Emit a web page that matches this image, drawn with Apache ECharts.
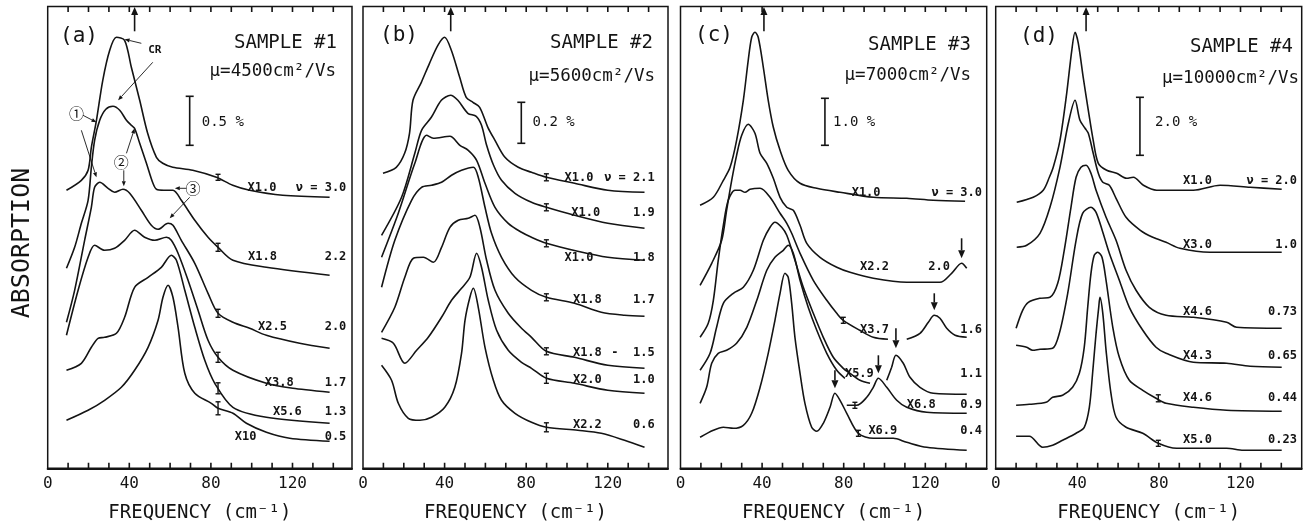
<!DOCTYPE html>
<html><head><meta charset="utf-8">
<script src="https://cdn.jsdelivr.net/npm/echarts@6/dist/echarts.min.js"></script>
<style>html,body{margin:0;padding:0;background:#fff}#c{width:1303px;height:525px}</style>
</head><body><div id="c"></div>
<script>
// ======================= DATA =======================
const FREQ_LABELS = [0, 40, 80, 120];
const FREQ_TICKS = [10, 20, 30, 40, 50, 60, 70, 80, 90, 100, 110, 120, 130, 140];
const PANEL_TAGS = ['(a)', '(b)', '(c)', '(d)'];
const SAMPLE_NAMES = ['SAMPLE #1', 'SAMPLE #2', 'SAMPLE #3', 'SAMPLE #4'];
const MOBILITIES = ['\u03bc=4500cm\u00b2/Vs', '\u03bc=5600cm\u00b2/Vs', '\u03bc=7000cm\u00b2/Vs', '\u03bc=10000cm\u00b2/Vs'];
const SCALE_LABELS = ['0.5 %', '0.2 %', '1.0 %', '2.0 %'];
const SCALE_BARS = [[69.6, 32.3, 37.2], [77.6, 32.5, 36.6], [70.8, 32.3, 37.0], [70.7, 31.3, 37.1]];
const CR_MARK = [42.6, 43.0, 40.9, 44.3];

const MULT_A = ['X1.0', 'X1.8', 'X2.5', 'X3.8', 'X5.6', 'X10'];
const NU_A = ['\u03bd = 3.0', '2.2', '2.0', '1.7', '1.3', '0.5'];
const A1 = [[9.2,27.8],[16.5,28.8],[19.8,29.8],[21.4,32.1],[23.9,34.8],[27.0,38.8],[30.4,41.8],[33.7,43.1],[37.7,42.8],[41.0,40.1],[45.1,36.8],[49.0,33.5],[53.3,31.1],[56.4,30.5],[61.3,30.1],[71.1,29.8],[82.7,29.1],[90.7,28.3],[99.0,27.8],[115.2,27.3],[138.2,27.1]];
const A2 = [[9.2,20.0],[13.2,22.1],[16.5,24.5],[19.8,26.8],[21.4,30.1],[23.0,32.8],[25.5,34.8],[28.5,35.9],[32.0,36.2],[35.3,35.8],[38.6,34.8],[41.0,34.3],[42.6,34.0],[45.1,32.5],[48.4,30.5],[51.6,28.5],[53.3,27.9],[57.0,27.8],[61.4,27.8],[65.5,26.8],[72.1,24.8],[78.6,23.1],[83.5,22.1],[90.8,20.8],[107.2,20.1],[138.2,19.3]];
const A3 = [[9.2,14.6],[13.2,17.8],[18.1,22.8],[21.4,26.1],[23.0,28.1],[25.5,28.6],[29.6,28.0],[32.8,27.6],[36.9,27.9],[40.2,27.5],[45.9,25.8],[50.8,24.3],[54.1,23.9],[59.0,24.5],[61.4,24.3],[65.5,22.8],[72.1,20.5],[78.6,17.5],[83.5,15.5],[90.8,14.6],[99.0,14.0],[107.2,13.3],[123.5,12.5],[138.2,12.0]];
const A4 = [[9.2,13.3],[14.9,17.8],[19.8,21.1],[23.0,22.3],[27.9,21.8],[32.8,22.0],[37.7,22.8],[42.6,23.8],[47.5,23.1],[52.5,22.8],[58.2,23.1],[60.6,22.8],[63.9,21.5],[68.8,18.8],[73.7,15.8],[78.6,12.8],[83.5,11.1],[90.8,9.8],[107.2,8.5],[120.2,8.0],[138.2,7.6]];
const A5 = [[9.2,9.8],[16.5,10.5],[21.4,12.1],[24.7,13.0],[27.9,13.1],[33.7,13.5],[37.7,15.1],[42.6,18.1],[49.2,19.1],[55.7,20.1],[60.6,21.3],[63.1,20.8],[67.2,17.8],[72.1,14.1],[77.0,10.8],[81.9,8.5],[90.8,6.1],[107.2,5.1],[138.2,4.5]];
const A6 = [[9.2,4.8],[19.8,5.8],[27.9,6.8],[36.1,8.1],[42.6,9.8],[49.2,12.1],[54.1,14.8],[56.5,17.1],[59.0,18.3],[61.4,17.1],[63.9,14.1],[67.2,9.5],[72.1,7.5],[80.2,6.5],[83.5,6.0],[90.8,5.5],[97.4,4.5],[107.2,3.6],[118.6,3.0],[138.2,2.7]];
const ERR_A = [[83.5,29.1,0.3],[83.5,22.1,0.4],[83.5,15.5,0.4],[83.5,11.1,0.5],[83.5,8.0,0.55],[83.5,6.0,0.65]];

const MULT_B = ['X1.0', 'X1.0', 'X1.0', 'X1.8', 'X1.8', 'X2.0', 'X2.2'];
const NU_B = ['\u03bd = 2.1', '1.9', '1.8', '1.7', '-  1.5', '1.0', '0.6'];
const B1 = [[9.8,29.5],[16.3,30.1],[20.4,31.5],[22.8,33.5],[24.5,36.8],[28.6,38.6],[32.6,40.5],[36.7,42.3],[40.0,43.1],[43.3,41.8],[47.4,39.1],[50.6,37.1],[53.9,36.6],[57.2,36.1],[61.2,34.1],[64.7,32.8],[69.6,31.1],[76.1,30.1],[82.6,29.6],[89.9,29.1],[103.7,28.5],[120.0,27.8],[138.0,27.6]];
const B2 = [[9.1,23.3],[18.9,27.1],[25.4,31.5],[28.7,33.8],[33.5,35.1],[38.4,36.8],[42.9,37.3],[46.5,36.8],[51.4,35.5],[55.5,35.2],[58.1,34.3],[60.6,32.3],[64.0,30.3],[67.9,28.8],[74.5,27.5],[82.6,26.6],[89.9,26.1],[103.7,25.3],[120.0,24.5],[138.0,24.0]];
const B3 = [[9.1,21.1],[17.3,25.5],[25.4,30.5],[31.2,33.3],[34.5,33.0],[42.6,33.2],[47.5,32.3],[51.6,31.8],[55.7,30.8],[59.8,28.5],[64.7,26.1],[71.2,24.5],[77.7,23.6],[82.6,23.1],[89.9,22.5],[105.2,21.7],[120.0,21.1],[138.0,20.8]];
const B4 = [[9.1,18.1],[15.6,22.8],[23.8,26.8],[28.7,28.1],[33.6,28.3],[38.5,28.6],[43.4,29.3],[48.3,29.8],[54.1,30.1],[56.5,29.1],[59.8,26.1],[63.0,23.5],[67.9,21.1],[74.5,19.1],[82.6,17.8],[89.9,17.1],[103.7,16.5],[116.8,15.6],[128.2,15.3],[138.0,15.2]];
const B5 = [[9.1,13.6],[15.6,16.1],[20.5,19.1],[24.7,21.0],[29.6,21.1],[34.5,20.6],[38.5,22.1],[42.6,24.1],[46.7,24.8],[51.6,25.0],[54.9,25.3],[57.3,24.1],[60.6,20.8],[64.7,17.8],[71.2,15.5],[77.7,14.0],[82.6,13.1],[89.9,11.7],[103.7,11.1],[120.0,10.3],[138.0,10.0]];
const B6 = [[9.1,13.0],[14.9,12.5],[20.5,10.5],[26.3,11.8],[32.0,13.1],[38.5,15.1],[43.4,16.8],[48.3,18.0],[52.4,19.1],[55.7,21.5],[58.1,20.1],[61.4,16.8],[65.5,13.8],[71.2,11.8],[77.7,10.6],[82.6,10.0],[89.9,9.0],[103.7,8.5],[120.0,7.8],[138.0,7.5]];
const B7 = [[9.1,10.3],[14.0,8.8],[17.3,6.5],[22.2,5.0],[27.9,4.8],[33.6,5.1],[40.1,6.1],[45.0,8.1],[48.3,11.5],[50.0,14.8],[52.4,17.1],[54.1,18.0],[56.5,16.1],[59.8,12.1],[63.9,8.8],[67.9,6.8],[74.5,5.5],[82.6,4.6],[89.9,4.1],[105.3,3.8],[116.8,3.5],[128.2,2.8],[138.0,2.1]];
const ERR_B = [[89.9,29.1,0.35],[89.9,26.1,0.35],[89.9,22.5,0.35],[89.9,17.1,0.35],[89.9,11.7,0.35],[89.9,9.0,0.5],[89.9,4.1,0.45]];

const MULT_C = ['X1.0', 'X2.2', 'X3.7', 'X5.9', 'X6.8', 'X6.9'];
const NU_C = ['\u03bd = 3.0', '2.0', '1.6', '1.1', '0.9', '0.4'];
const C1 = [[9.6,26.3],[16.1,27.1],[21.0,28.8],[24.3,30.1],[27.5,32.8],[30.8,36.8],[33.2,40.8],[34.9,43.1],[36.5,43.6],[38.1,43.1],[40.6,40.1],[43.0,36.8],[45.5,34.1],[48.8,31.8],[52.8,29.8],[58.6,28.5],[66.8,28.0],[78.2,27.6],[94.5,27.1],[110.9,27.0],[123.9,26.8],[139.5,26.7]];
const C2 = [[9.6,18.3],[15.3,20.5],[20.2,22.8],[22.6,25.8],[25.1,28.8],[27.5,31.3],[30.0,33.3],[33.2,34.4],[36.5,33.5],[39.0,31.5],[42.3,30.5],[45.5,29.0],[48.8,27.1],[52.1,26.1],[55.3,25.8],[58.6,24.3],[61.9,22.5],[68.4,21.1],[76.6,20.1],[83.1,19.6],[94.5,19.0],[110.9,18.6],[127.2,18.6],[132.9,19.5],[137.8,20.5],[140.3,20.0]];
const C3 = [[9.6,13.1],[13.6,14.5],[16.1,16.8],[18.5,20.8],[21.0,24.3],[23.4,26.8],[26.7,27.8],[29.2,27.8],[31.6,27.6],[34.1,27.9],[39.0,28.0],[43.9,27.1],[48.8,25.5],[52.1,24.5],[54.5,23.5],[58.6,21.5],[65.1,18.8],[71.7,16.8],[76.6,15.5],[79.8,14.8],[87.9,13.8],[94.5,13.1],[101.7,12.9],null,[110.9,12.9],[117.4,13.5],[121.5,14.6],[124.4,15.3],[127.2,15.0],[130.5,14.0],[134.6,13.3],[140.3,13.1]];
const C4 = [[9.6,9.8],[14.5,11.5],[17.7,14.1],[21.0,16.5],[25.9,17.5],[30.8,18.1],[35.7,19.8],[40.6,22.8],[43.9,24.1],[46.3,24.6],[49.6,24.1],[52.1,23.3],[56.1,20.8],[60.2,18.1],[65.1,15.5],[70.0,13.1],[74.9,11.1],[79.8,10.0],[83.1,9.5],[88.0,8.8],[92.9,8.5],null,[101.1,8.8],[103.5,10.1],[105.6,11.3],[109.2,10.5],[112.5,9.1],[117.4,8.1],[123.9,7.5],[140.3,7.4]];
const C5 = [[9.6,6.5],[12.8,8.1],[15.3,10.5],[18.5,11.5],[22.6,11.8],[27.5,12.5],[32.5,14.1],[37.4,16.8],[42.3,19.8],[46.3,21.1],[50.4,21.8],[52.8,22.3],[55.3,21.5],[58.6,18.8],[62.6,16.1],[66.8,13.8],[71.7,11.5],[76.6,9.8],[80.6,9.0],null,[81.5,6.3],[86.4,6.3],[91.3,7.1],[94.5,8.1],[97.0,9.0],[101.1,8.1],[106.0,6.8],[110.9,6.1],[120.7,5.6],[140.3,5.5]];
const C6 = [[9.6,3.1],[16.1,3.8],[21.0,4.1],[25.9,4.0],[30.8,4.3],[34.9,5.5],[39.0,8.1],[43.0,11.5],[46.3,14.8],[48.8,17.5],[51.2,19.5],[52.8,19.1],[54.5,16.5],[56.1,13.1],[58.6,9.5],[61.0,6.5],[64.3,4.1],[66.8,3.7],[70.0,4.5],[73.3,6.1],[75.7,7.5],[78.2,6.8],[81.5,5.5],[87.2,3.5],[94.5,3.0],[104.3,3.0],[110.9,2.6],[120.7,2.1],[140.3,1.8]];
const ERR_C = [[79.8,14.8,0.3],[85.5,6.3,0.3],[87.2,3.5,0.3]];
const PEAK_ARROWS_C = [[137.8,23.0,21.0],[124.4,17.5,15.8],[105.6,14.0,12.0],[97.0,11.3,9.5],[75.7,9.8,8.0]];

const MULT_D = ['X1.0', 'X3.0', 'X4.6', 'X4.3', 'X4.6', 'X5.0'];
const NU_D = ['\u03bd = 2.0', '1.0', '0.73', '0.65', '0.44', '0.23'];
const D1 = [[10.3,26.6],[18.4,27.1],[23.3,27.8],[26.3,29.1],[28.2,30.1],[31.5,32.8],[34.8,37.5],[37.3,41.8],[38.9,43.6],[40.5,42.5],[42.9,39.1],[45.4,35.8],[47.8,32.8],[50.3,30.5],[54.4,29.8],[59.3,29.5],[64.2,29.0],[67.5,29.1],[72.4,28.3],[78.9,27.8],[96.9,27.8],[110.0,28.3],[124.7,28.1],[140.2,27.9]];
const D2 = [[10.3,22.1],[15.2,22.3],[21.7,23.5],[26.6,26.1],[31.5,30.1],[35.6,34.5],[38.9,36.8],[41.3,34.8],[43.8,34.0],[45.4,33.5],[47.8,31.5],[50.3,29.5],[52.5,28.6],[55.7,28.3],[59.0,27.0],[63.9,25.1],[70.9,23.8],[77.0,23.1],[83.5,22.6],[90.3,22.0],[105.0,21.6],[140.2,21.6]];
const D3 = [[10.0,14.0],[13.2,15.8],[16.0,16.6],[21.7,17.0],[26.6,17.1],[30.4,18.5],[33.6,21.8],[36.9,26.1],[39.4,29.1],[41.8,30.1],[44.3,30.3],[46.7,29.5],[49.2,27.8],[54.1,25.1],[59.0,22.8],[63.9,19.8],[68.8,17.8],[75.3,16.1],[83.5,15.3],[96.9,15.1],[113.2,14.6],[118.1,14.1],[140.2,14.0]];
const D4 = [[10.0,12.3],[15.2,12.1],[18.1,11.8],[21.7,11.9],[27.9,12.0],[31.2,13.5],[35.3,17.5],[39.4,22.8],[42.6,25.5],[46.7,26.1],[49.2,25.6],[52.5,23.6],[55.7,21.5],[60.6,18.8],[65.5,16.1],[72.1,13.8],[78.6,12.1],[83.5,11.5],[96.9,10.6],[113.2,10.5],[124.7,10.2],[140.2,10.1]];
const D5 = [[10.0,6.3],[16.5,6.4],[24.7,6.6],[27.9,7.1],[32.8,7.3],[37.7,8.1],[41.0,9.5],[43.4,12.1],[45.1,16.1],[46.7,19.5],[48.3,21.3],[50.0,21.6],[52.1,21.1],[54.1,18.8],[57.4,14.1],[60.6,11.1],[65.5,8.8],[72.1,7.8],[78.6,7.0],[83.5,6.5],[96.9,6.1],[113.2,5.8],[140.2,5.7]];
const D6 = [[10.0,3.2],[16.5,3.2],[23.0,2.1],[27.9,2.3],[32.8,2.8],[39.4,3.5],[43.4,4.1],[45.9,6.1],[47.5,9.5],[49.2,13.5],[50.5,16.1],[51.1,17.1],[52.5,15.5],[54.1,11.8],[56.5,7.5],[59.0,5.1],[63.9,4.1],[72.1,3.5],[79.7,2.5],[88.7,2.0],[113.2,2.0],[121.4,1.8],[140.2,1.8]];
const ERR_D = [[79.7,7.0,0.35],[79.7,2.5,0.3]];

// ======================= LAYOUT (positions / styles) =======================
const INK = '#141414';
const MONO = "'DejaVu Sans Mono', monospace";
const GRID_X = [[47.7, 352], [363, 668], [680.5, 986.7], [995.7, 1301.7]];
const GRID_TOP = 6.5, GRID_BOTTOM = 468.3, PX_PER_UNIT = 2.04;
const Y_MAX = (GRID_BOTTOM - GRID_TOP) / 10;
const TICK_LEN = 0.55;
const HEADER = [
  {tag: [60, 37], sample: [337, 43], mu: [336, 71]},
  {tag: [380, 36], sample: [653, 43], mu: [655, 76]},
  {tag: [695, 36], sample: [971, 45], mu: [971, 75]},
  {tag: [1020, 37], sample: [1293, 47], mu: [1299, 78]}
];
const LABELS = [
  {multX: [98.0, 98.2, 103.1, 106.4, 110.4, 91.7], rowY: [28.0, 21.1, 14.1, 8.5, 5.6, 3.1], nuX: [146.4,146.4,146.4,146.4,146.4,146.4]},
  {multX: [98.8, 102.1, 98.8, 102.9, 102.9, 102.9, 102.9], rowY: [29.0, 25.5, 21.0, 16.8, 11.5, 8.8, 4.3], nuX: [143,143,143,143,143,143,143]},
  {multX: [83.9, 88.0, 88.0, 80.6, 110.9, 92.1], rowY: [27.5, 20.1, 13.8, 9.4, 6.3, 3.7], nuX: [147.8,132.1,147.8,147.8,147.8,147.8]},
  {multX: [91.8, 91.8, 91.8, 91.8, 91.8, 91.8], rowY: [28.7, 22.3, 15.6, 11.2, 7.0, 2.8], nuX: [147.7,147.7,147.7,147.7,147.7,147.7]}
];
const SCALE_TEXT_POS = [[75.5, 34.6], [83.1, 34.6], [74.8, 34.6], [78.1, 34.6]];

const PANELS = [
  {curves: [A1,A2,A3,A4,A5,A6], mult: MULT_A, nu: NU_A, err: ERR_A},
  {curves: [B1,B2,B3,B4,B5,B6,B7], mult: MULT_B, nu: NU_B, err: ERR_B},
  {curves: [C1,C2,C3,C4,C5,C6], mult: MULT_C, nu: NU_C, err: ERR_C},
  {curves: [D1,D2,D3,D4,D5,D6], mult: MULT_D, nu: NU_D, err: ERR_D}
];

const ANNOT_ARROWS_A = [[45.9,42.5,37.7,42.9],[51.5,40.6,34.5,36.8],[17.3,35.3,23.9,34.6],[16.5,33.8,23.9,29.1],[38.6,31.5,42.6,34.0],[37.3,29.8,37.3,28.2],[68.0,28.0,62.3,28.0],[69.6,27.1,59.8,25.0]];
const ANNOT_TEXT_A = [{t:'CR', p:[52.5,41.8]}, {t:'\u2460', p:[14.1,35.5]}, {t:'\u2461', p:[36.1,30.6]}, {t:'\u2462', p:[71.2,28.0]}];

// ======================= BUILD =======================
function arrowItem(api, f0, v0, f1, v1, headLen, headW, lw) {
  const p0 = api.coord([f0, v0]), p1 = api.coord([f1, v1]);
  const dx = p1[0]-p0[0], dy = p1[1]-p0[1], L = Math.hypot(dx, dy) || 1;
  const ux = dx/L, uy = dy/L;
  const bx = p1[0]-ux*headLen, by = p1[1]-uy*headLen;
  return {type:'group', children:[
    {type:'line', shape:{x1:p0[0], y1:p0[1], x2:bx, y2:by}, style:{stroke:INK, lineWidth:lw}},
    {type:'polygon', shape:{points:[[p1[0],p1[1]],[bx-uy*headW, by+ux*headW],[bx+uy*headW, by-ux*headW]]}, style:{fill:INK}}
  ]};
}

const grids = [], xAxes = [], yAxes = [], series = [];
GRID_X.forEach(([l, r], i) => {
  const w = r - l;
  grids.push({left:l, top:GRID_TOP, width:w, height:GRID_BOTTOM-GRID_TOP, show:true, borderColor:INK, borderWidth:1.5, backgroundColor:'transparent', outerBoundsMode:'none', containLabel:false});
  const xmax = +(w / PX_PER_UNIT).toFixed(2);
  xAxes.push({gridIndex:i, type:'value', position:'bottom', min:0, max:xmax, interval:10,
    axisLine:{show:true, onZero:false, lineStyle:{color:INK, width:2}}, axisTick:{show:false}, splitLine:{show:false},
    axisLabel:{color:INK, fontFamily:MONO, fontSize:16, margin:8, showMaxLabel:false,
      formatter: v => FREQ_LABELS.indexOf(v) >= 0 ? String(v) : ''},
    name:'FREQUENCY (cm\u207b\u00b9)', nameLocation:'middle', nameGap:35,
    nameTextStyle:{color:INK, fontFamily:MONO, fontSize:19}});
  yAxes.push({gridIndex:i, type:'value', min:0, max:Y_MAX, show:false});
});

PANELS.forEach((P, i) => {
  // frame tick marks as short line segments (bottom and top edges), broken by gaps
  const tickPts = [];
  FREQ_TICKS.forEach(f => {
    tickPts.push([f, 0], [f, TICK_LEN], ['-', '-']);
    tickPts.push([f, Y_MAX - TICK_LEN], [f, Y_MAX], ['-', '-']);
  });
  series.push({type:'line', xAxisIndex:i, yAxisIndex:i, data:tickPts, symbol:'none', showSymbol:false,
    connectNulls:false, silent:true, clip:false, z:8, lineStyle:{color:INK, width:1.6, cap:'butt'}});

  P.curves.forEach(c => series.push({type:'line', xAxisIndex:i, yAxisIndex:i, data:c.map(q => q ? q : ['-','-']),
    symbol:'none', showSymbol:false, smooth:0.3, connectNulls:false, silent:true, z:3,
    lineStyle:{color:INK, width:1.6}}));
  // error bars
  series.push({type:'custom', xAxisIndex:i, yAxisIndex:i, silent:true, z:4, data:P.err,
    renderItem(params, api) {
      const f = api.value(0), v = api.value(1), h = api.value(2);
      const a = api.coord([f, v+h]), b = api.coord([f, v-h]), c = 2.5;
      const st = {stroke:INK, lineWidth:1.4};
      return {type:'group', children:[
        {type:'line', shape:{x1:a[0], y1:a[1], x2:b[0], y2:b[1]}, style:st},
        {type:'line', shape:{x1:a[0]-c, y1:a[1], x2:a[0]+c, y2:a[1]}, style:st},
        {type:'line', shape:{x1:b[0]-c, y1:b[1], x2:b[0]+c, y2:b[1]}, style:st}]};
    }});
  // scale bar
  series.push({type:'custom', xAxisIndex:i, yAxisIndex:i, silent:true, z:4, data:[SCALE_BARS[i]],
    renderItem(params, api) {
      const a = api.coord([api.value(0), api.value(2)]), b = api.coord([api.value(0), api.value(1)]), c = 4;
      const st = {stroke:INK, lineWidth:1.6};
      return {type:'group', children:[
        {type:'line', shape:{x1:a[0], y1:a[1], x2:b[0], y2:b[1]}, style:st},
        {type:'line', shape:{x1:a[0]-c, y1:a[1], x2:a[0]+c, y2:a[1]}, style:st},
        {type:'line', shape:{x1:b[0]-c, y1:b[1], x2:b[0]+c, y2:b[1]}, style:st}]};
    }});
  // top CR arrow (+ impurity-peak arrows in c)
  const ymaxv = Y_MAX - 0.05;
  const bigArrows = [[CR_MARK[i], 43.7, CR_MARK[i], ymaxv]];
  if (i === 2) PEAK_ARROWS_C.forEach(a => bigArrows.push([a[0], a[1], a[0], a[2]]));
  series.push({type:'custom', xAxisIndex:i, yAxisIndex:i, silent:true, z:5, clip:false, data:bigArrows,
    renderItem(params, api) { return arrowItem(api, api.value(0), api.value(1), api.value(2), api.value(3), 8, 3.5, 1.6); }});
  // texts
  const L = LABELS[i];
  const texts = [];
  P.mult.forEach((m, k) => texts.push({p:[L.multX[k], L.rowY[k]], t:m, align:'left', size:12, weight:'bold'}));
  P.nu.forEach((m, k) => texts.push({p:[L.nuX[k], L.rowY[k]], t:m, align:'right', size:12, weight:'bold'}));
  texts.push({p:SCALE_TEXT_POS[i], t:SCALE_LABELS[i], align:'left', size:14, weight:'normal'});
  if (i === 0) ANNOT_TEXT_A.forEach(a => texts.push({p:a.p, t:a.t, align:'center', size:a.t === 'CR' ? 11 : 15, weight: a.t === 'CR' ? 'bold' : 'normal', font: a.t === 'CR' ? MONO : "'Noto Sans CJK JP', 'DejaVu Sans', sans-serif"}));
  series.push({type:'custom', xAxisIndex:i, yAxisIndex:i, silent:true, z:6, clip:false, data:texts.map(t => t.p),
    renderItem(params, api) {
      const it = texts[params.dataIndex];
      const p = api.coord([api.value(0), api.value(1)]);
      return {type:'text', x:p[0], y:p[1], style:{text:it.t, align:it.align, verticalAlign:'middle',
        fontSize:it.size, fontWeight:it.weight, fontFamily:it.font || MONO, fill:INK}};
    }});
  if (i === 0) {
    series.push({type:'custom', xAxisIndex:0, yAxisIndex:0, silent:true, z:5, clip:false, data:ANNOT_ARROWS_A,
      renderItem(params, api) { return arrowItem(api, api.value(0), api.value(1), api.value(2), api.value(3), 5, 2, 0.9); }});
  }
});

const graphic = [{type:'text', x:22, y:243, rotation:Math.PI/2, style:{text:'ABSORPTION', align:'center', verticalAlign:'middle', fontSize:25, fontFamily:MONO, fill:INK}}];
HEADER.forEach((h, i) => {
  graphic.push({type:'text', x:h.tag[0], y:h.tag[1], style:{text:PANEL_TAGS[i], align:'left', verticalAlign:'middle', fontSize:21, fontFamily:MONO, fill:INK}});
  graphic.push({type:'text', x:h.sample[0], y:h.sample[1], style:{text:SAMPLE_NAMES[i], align:'right', verticalAlign:'middle', fontSize:19, fontFamily:MONO, fill:INK}});
  graphic.push({type:'text', x:h.mu[0], y:h.mu[1], style:{text:MOBILITIES[i], align:'right', verticalAlign:'middle', fontSize:17.5, fontFamily:MONO, fill:INK}});
});

const chart = echarts.init(document.getElementById('c'), null, {renderer:'canvas'});
chart.setOption({animation:false, backgroundColor:'#ffffff', grid:grids, xAxis:xAxes, yAxis:yAxes, series, graphic});
</script></body></html>
